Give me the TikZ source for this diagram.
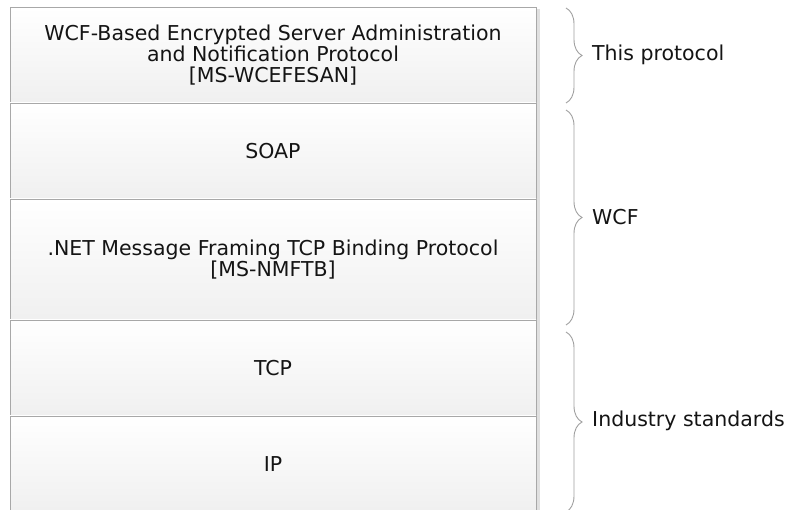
\documentclass[tikz,border=0pt]{standalone}
\usepackage{fontspec}
\setmainfont{DejaVu Sans}
\usetikzlibrary{decorations.pathreplacing}
\definecolor{edge}{HTML}{A8A8A8}
\definecolor{bracecol}{HTML}{A0A0A0}
\tikzset{
  layer/.style={draw=edge, line width=0.9pt, top color=white, bottom color=black!6,
    minimum width=526pt, inner sep=0pt, align=center, font=\fontsize{20.5}{21}\selectfont, text=black!92},
  grp/.style={draw=bracecol, line width=0.9pt, decorate, decoration={brace, amplitude=16pt}},
  lbl/.style={anchor=west, font=\fontsize{20.5}{21}\selectfont, text=black!92, inner sep=0pt}
}
\begin{document}
\begin{tikzpicture}[x=1pt,y=1pt]
\useasboundingbox (0,0) rectangle (795,510);
% shadow strip
\fill[black!12] (536,0) rectangle (540,501);
\node[layer, minimum height=96pt] (proto) at (273,455) {WCF-Based Encrypted Server Administration\\and Notification Protocol\\{}[MS-WCEFESAN]};
\node[layer, minimum height=96pt] (soap) at (273,359) {SOAP};
\node[layer, minimum height=121pt] (nmf) at (273,250.5) {.NET Message Framing TCP Binding Protocol\\{}[MS-NMFTB]};
\node[layer, minimum height=96pt] (tcp) at (273,142) {TCP};
\node[layer, minimum height=96pt] (ip) at (273,46) {IP};
\coordinate (b1t) at (566,502); \coordinate (b1b) at (566,407);
\coordinate (b2t) at (566,400); \coordinate (b2b) at (566,185);
\coordinate (b3t) at (566,178); \coordinate (b3b) at (566,-2);
\draw[grp] (b1t) -- (b1b);
\draw[grp] (b2t) -- (b2b);
\draw[grp] (b3t) -- (b3b);
\node[lbl] (l1) at (592,455) {This protocol};
\node[lbl] (l2) at (592,293) {WCF};
\node[lbl] (l3) at (592,89) {Industry standards};
\end{tikzpicture}
\end{document}
